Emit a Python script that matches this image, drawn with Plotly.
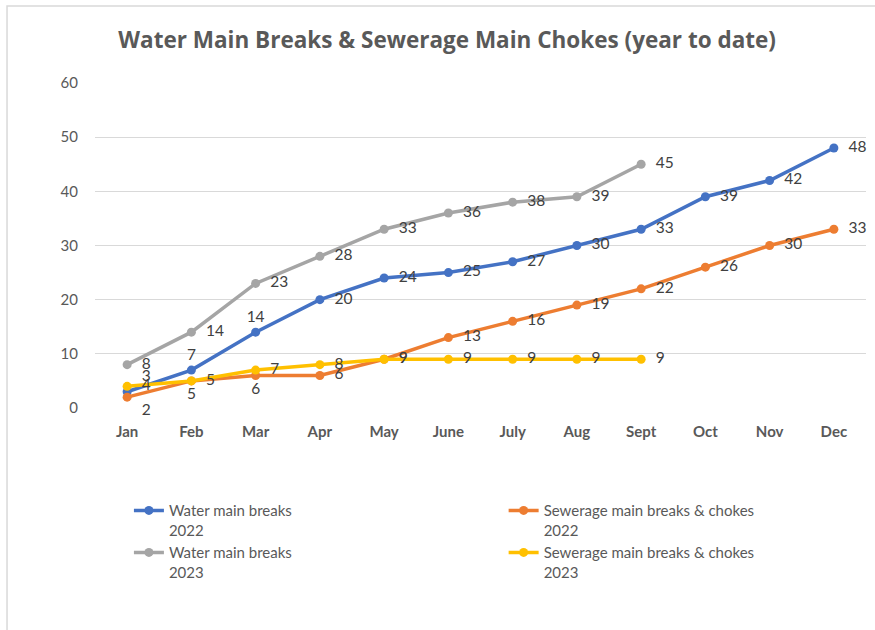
import plotly.graph_objects as go

months = ["Jan", "Feb", "Mar", "Apr", "May", "June", "July", "Aug", "Sept", "Oct", "Nov", "Dec"]
water_2022 = [3, 7, 14, 20, 24, 25, 27, 30, 33, 39, 42, 48]
sewer_2022 = [2, 5, 6, 6, 9, 13, 16, 19, 22, 26, 30, 33]
water_2023 = [8, 14, 23, 28, 33, 36, 38, 39, 45]
sewer_2023 = [4, 5, 7, 8, 9, 9, 9, 9, 9]

names = [
    "Water main breaks<br>2022",
    "Sewerage main breaks & chokes<br>2022",
    "Water main breaks<br>2023",
    "Sewerage main breaks & chokes<br>2023",
]
colors = ["#4472C4", "#ED7D31", "#A5A5A5", "#FFC000"]
legend_ids = ["legend", "legend2", "legend", "legend2"]

pos_w22 = ["top right", "top center", "top center"] + ["middle right"] * 9
pos_s22 = ["bottom right", "bottom center", "bottom center"] + ["middle right"] * 9
pos_w23 = ["middle right"] * 9
pos_s23 = ["middle right"] * 9

series = [water_2022, sewer_2022, water_2023, sewer_2023]
positions = [pos_w22, pos_s22, pos_w23, pos_s23]

NB = "\u00a0"
FONT = "Lato, Open Sans, sans-serif"

fig = go.Figure()
for vals, name, col, pos, lg in zip(series, names, colors, positions, legend_ids):
    texts = []
    for v, p in zip(vals, pos):
        if p.endswith("right"):
            texts.append(NB + NB + str(v))
        else:
            texts.append(str(v))
    fig.add_trace(go.Scatter(
        x=months[:len(vals)], y=vals, name=name, legend=lg,
        mode="lines+markers+text",
        line=dict(color=col, width=3.5),
        marker=dict(color=col, size=9),
        text=texts, textposition=pos,
        textfont=dict(family=FONT, size=15.5, color="#404040"),
        cliponaxis=False,
    ))

legend_common = dict(
    orientation="v", yanchor="top", y=-0.265, xanchor="left",
    valign="top", tracegroupgap=0, itemwidth=30,
    font=dict(family=FONT, size=15, color="#595959"),
    bgcolor="rgba(0,0,0,0)",
)

fig.update_layout(
    width=875, height=630,
    paper_bgcolor="white", plot_bgcolor="white",
    margin=dict(l=95, r=9, t=83, b=222, autoexpand=False),
    title=dict(
        text="<b>Water Main Breaks & Sewerage Main Chokes (year to date)</b>",
        x=0.511, xanchor="center", xref="container",
        y=0.936, yanchor="middle",
        font=dict(family="Open Sans, sans-serif", size=22.5, color="#595959"),
    ),
    xaxis=dict(
        type="category", categoryorder="array", categoryarray=months,
        range=[-0.5, 11.5],
        showgrid=False, showline=False, zeroline=False,
        tickfont=dict(family=FONT, size=15, color="#595959", weight="bold"),
        ticks="outside", ticklen=10, tickcolor="rgba(0,0,0,0)",
    ),
    yaxis=dict(
        range=[0, 60], dtick=10,
        showgrid=True, gridcolor="#D9D9D9", gridwidth=1.3,
        zeroline=False, showline=False,
        tickfont=dict(family=FONT, size=15, color="#595959"),
        ticks="outside", ticklen=13, tickcolor="rgba(0,0,0,0)",
    ),
    legend=dict(x=0.044, **legend_common),
    legend2=dict(x=0.530, **legend_common),
    shapes=[dict(
        type="rect", xref="paper", yref="paper",
        x0=-0.1141, x1=1.02, y0=-0.7, y1=1.237,
        line=dict(color="#D9D9D9", width=1.5), fillcolor="rgba(0,0,0,0)",
        layer="below",
    )],
)

fig.write_html(
    "out.html",
    config={"displayModeBar": False},
    post_script="document.body.style.margin='0';document.body.style.padding='0';",
)
